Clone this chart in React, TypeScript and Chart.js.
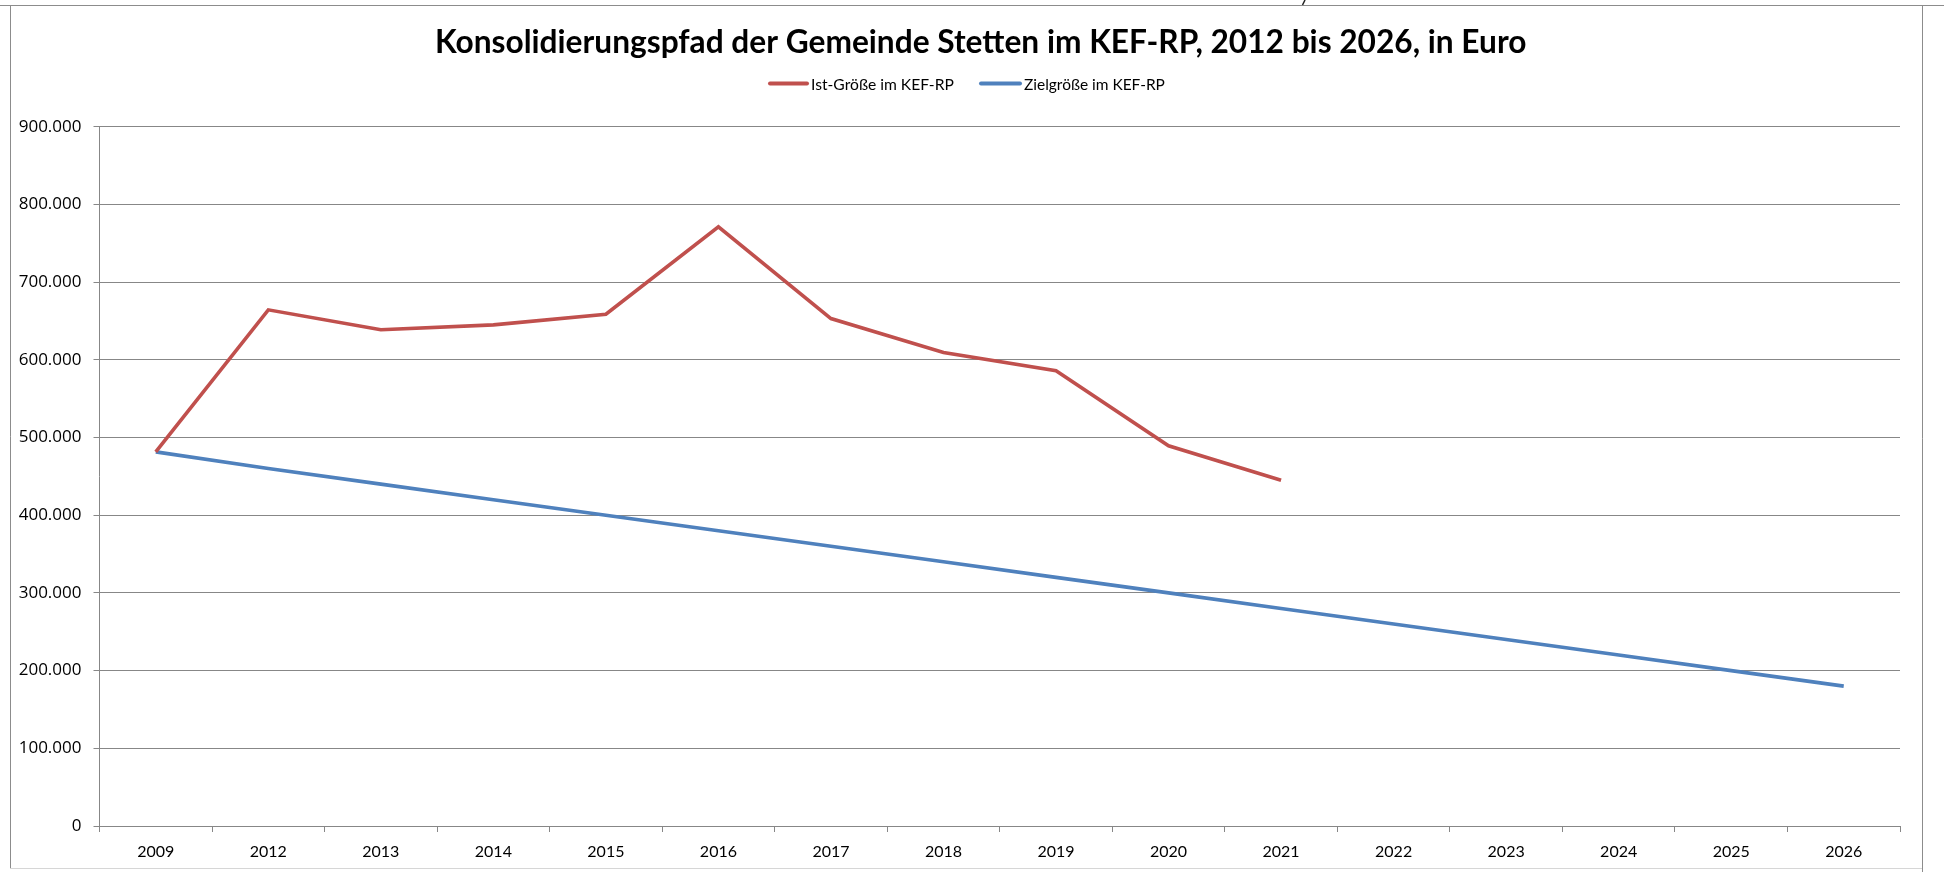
import React, { useEffect, useRef } from "react";
import { Chart, registerables } from "chart.js";

Chart.register(...registerables);

const years = ["2009", "2012", "2013", "2014", "2015", "2016", "2017", "2018", "2019", "2020", "2021", "2022", "2023", "2024", "2025", "2026"];
const istValues = [481500, 664300, 638600, 645000, 658700, 771200, 653100, 609400, 585900, 489300, 445100, null, null, null, null, null];
const zielValues = [481500, 460000, 440000, 420000, 400000, 380000, 360000, 340000, 320000, 300000, 280000, 260000, 240000, 220000, 200000, 180000];
const yMin = 0;
const yMax = 900000;
const yStep = 100000;
const titleText = "Konsolidierungspfad der Gemeinde Stetten im KEF-RP, 2012 bis 2026, in Euro";
const seriesLabels = ["Ist-Größe im KEF-RP", "Zielgröße im KEF-RP"];
const seriesColors = ["#C0504D", "#4F81BD"];

const W = 1944;
const H = 872;
const GRID = "#878787";

function fitSize(ctx: CanvasRenderingContext2D, text: string, weight: string, family: string, target: number) {
  const base = 20;
  ctx.font = `${weight} ${base}px ${family}`;
  const w = ctx.measureText(text).width;
  return (base * target) / w;
}

const decorPlugin = {
  id: "decor",
  beforeDraw(chart: any) {
    const ctx = chart.ctx as CanvasRenderingContext2D;
    ctx.save();
    ctx.fillStyle = "#ffffff";
    ctx.fillRect(0, 0, W, H);
    ctx.restore();
  },
  afterDraw(chart: any) {
    const ctx = chart.ctx as CanvasRenderingContext2D;
    ctx.save();
    // frame
    ctx.lineWidth = 1;
    ctx.strokeStyle = "#8c8c8c";
    ctx.beginPath();
    ctx.moveTo(0, 5.5);
    ctx.lineTo(W, 5.5);
    ctx.moveTo(10.5, 5.5);
    ctx.lineTo(10.5, 868);
    ctx.moveTo(1922.5, 5.5);
    ctx.lineTo(1922.5, 872);
    ctx.stroke();
    ctx.strokeStyle = "#d6d6d6";
    ctx.beginPath();
    ctx.moveTo(10, 868.5);
    ctx.lineTo(1922, 868.5);
    ctx.stroke();
    // tiny artifact at top
    ctx.strokeStyle = "#222";
    ctx.lineWidth = 1.5;
    ctx.beginPath();
    ctx.moveTo(1305, 0);
    ctx.lineTo(1302.5, 5);
    ctx.stroke();

    // title
    const tSize = fitSize(ctx, titleText, "bold", "Lato", 1092);
    ctx.font = `bold ${tSize}px Lato`;
    ctx.fillStyle = "#000";
    ctx.textBaseline = "alphabetic";
    ctx.textAlign = "left";
    ctx.fillText(titleText, 435, 52.7);

    // legend
    const legendItems = [
      { x0: 770, x1: 807, tx: 811, w: 143 },
      { x0: 981, x1: 1020, tx: 1024, w: 141 },
    ];
    legendItems.forEach((it, i) => {
      ctx.strokeStyle = seriesColors[i];
      ctx.lineWidth = 4;
      ctx.lineCap = "round";
      ctx.beginPath();
      ctx.moveTo(it.x0, 83.5);
      ctx.lineTo(it.x1, 83.5);
      ctx.stroke();
      const s = fitSize(ctx, seriesLabels[i], "normal", "Lato", it.w);
      ctx.font = `normal ${s}px Lato`;
      ctx.fillStyle = "#000";
      ctx.fillText(seriesLabels[i], it.tx, 90);
    });
    ctx.restore();
  },
};

export default function App() {
  const ref = useRef<HTMLCanvasElement | null>(null);

  useEffect(() => {
    document.body.style.margin = "0";
    const canvas = ref.current;
    if (!canvas) return;
    const chart = new Chart(canvas, {
      type: "line",
      data: {
        labels: years,
        datasets: [
          {
            label: seriesLabels[0],
            data: istValues,
            borderColor: seriesColors[0],
            backgroundColor: seriesColors[0],
            borderWidth: 3.6,
            pointRadius: 0,
            tension: 0,
            fill: false,
            borderJoinStyle: "miter",
          },
          {
            label: seriesLabels[1],
            data: zielValues,
            borderColor: seriesColors[1],
            backgroundColor: seriesColors[1],
            borderWidth: 3.6,
            pointRadius: 0,
            tension: 0,
            fill: false,
          },
        ],
      },
      options: {
        responsive: false,
        animation: false,
        devicePixelRatio: 1,
        layout: { padding: { top: 126.7, right: 44, bottom: 0, left: 0 } },
        plugins: {
          legend: { display: false },
          title: { display: false },
          tooltip: { enabled: false },
        },
        scales: {
          x: {
            type: "category",
            offset: true,
            grid: {
              offset: true,
              drawOnChartArea: false,
              tickLength: 6,
              color: GRID,
              tickColor: GRID,
            },
            border: { display: true, color: GRID, width: 1 },
            ticks: {
              padding: 10,
              color: "#000",
              font: { family: "Lato", size: 16 },
              maxRotation: 0,
              autoSkip: false,
            },
            afterFit: (scale: any) => {
              scale.height = 46;
            },
          },
          y: {
            min: yMin,
            max: yMax,
            grid: { color: GRID, tickLength: 6, lineWidth: 1 },
            border: { display: true, color: GRID, width: 1 },
            ticks: {
              stepSize: yStep,
              padding: 12,
              color: "#000",
              font: { family: "Open Sans", size: 17 },
              callback: (v: any) => Number(v).toLocaleString("de-DE"),
            },
            afterFit: (scale: any) => {
              scale.width = 99.5;
            },
          },
        },
      },
      plugins: [decorPlugin],
    });
    return () => chart.destroy();
  }, []);

  return (
    <div style={{ position: "absolute", left: 0, top: 0, width: W, height: H }}>
      <canvas ref={ref} width={W} height={H} style={{ width: W, height: H, display: "block" }} />
    </div>
  );
}
